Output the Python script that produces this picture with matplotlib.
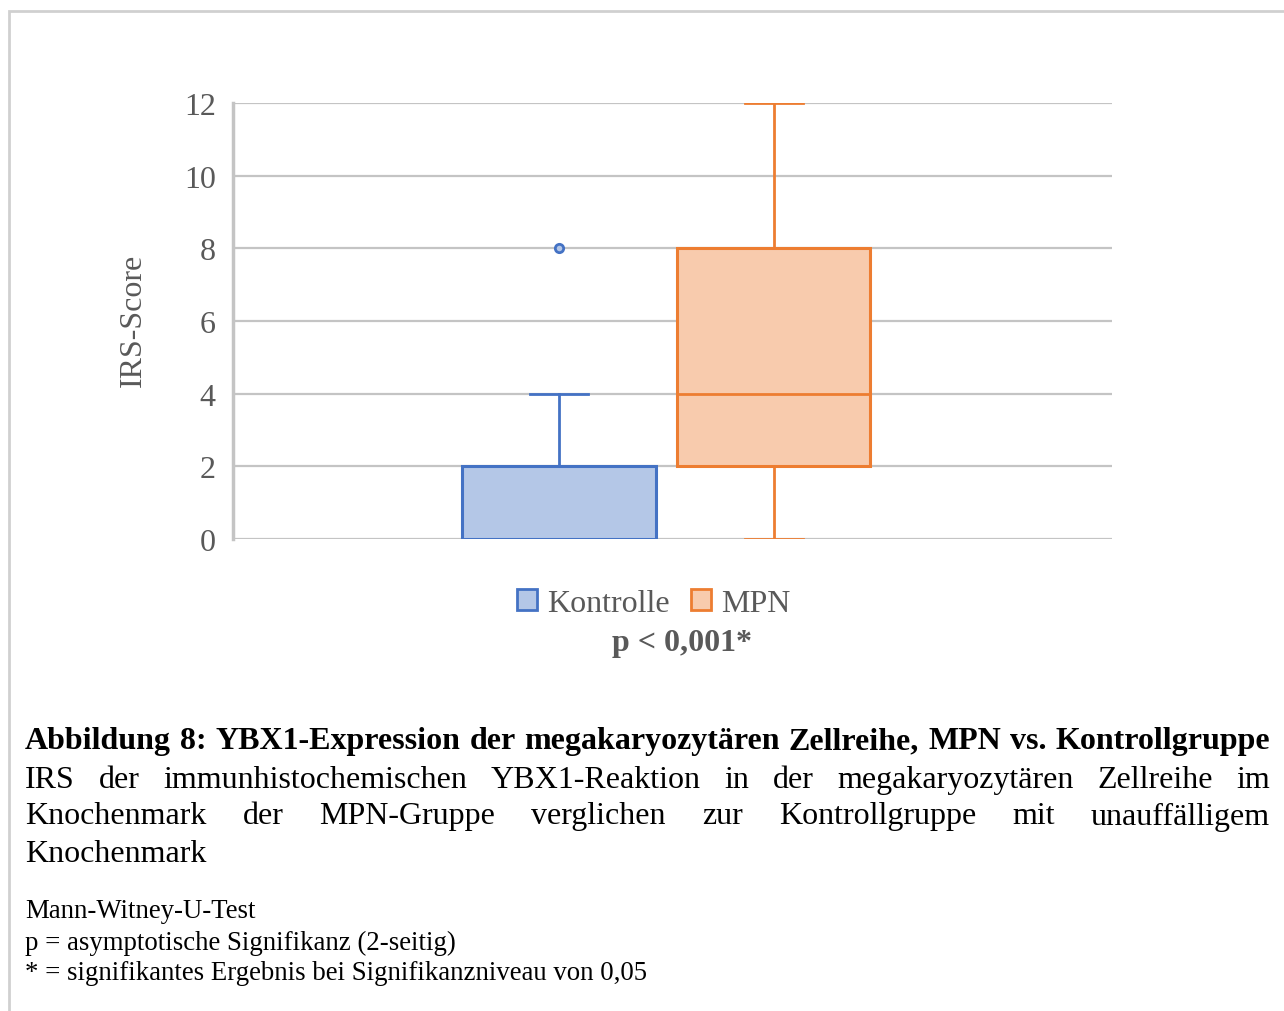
import matplotlib
matplotlib.use("Agg")
import matplotlib.pyplot as plt
from matplotlib.patches import Patch, Rectangle

plt.rcParams['font.family'] = ['Liberation Serif', 'DejaVu Serif']

# IRS-Score box summaries per group
groups = ['Kontrolle', 'MPN']
whisker_low = [0, 0]
q1 = [0, 2]
median = [0, 4]
q3 = [2, 8]
whisker_high = [4, 12]
outliers = [[8], []]

p_text = 'p < 0,001*'
caption_title = 'Abbildung 8: YBX1-Expression der megakaryozytären Zellreihe, MPN vs. Kontrollgruppe'
caption_lines = ['IRS der immunhistochemischen YBX1-Reaktion in der megakaryozytären Zellreihe im',
                 'Knochenmark der MPN-Gruppe verglichen zur Kontrollgruppe mit unauffälligem',
                 'Knochenmark']
notes = ['Mann-Witney-U-Test',
         'p = asymptotische Signifikanz (2-seitig)',
         '* = signifikantes Ergebnis bei Signifikanzniveau von 0,05']

edge_colors = ['#4472C4', '#ED7D31']
fill_colors = ['#B4C7E7', '#F8CBAD']
grey = '#595959'

W, H = 1284, 1012
fig = plt.figure(figsize=(W / 100, H / 100), dpi=100)
ax = fig.add_axes([233 / W, 1 - 540 / H, 879 / W, 436 / H])

stats = []
for i, g in enumerate(groups):
    stats.append(dict(label=g, whislo=whisker_low[i], q1=q1[i], med=median[i],
                      q3=q3[i], whishi=whisker_high[i], fliers=outliers[i]))

positions = [-0.129, 0.115]
bp = ax.bxp(stats, positions=positions, widths=0.220, capwidths=0.066,
            patch_artist=True, showfliers=True)
for i in range(len(groups)):
    bp['boxes'][i].set(facecolor=fill_colors[i], edgecolor=edge_colors[i], linewidth=2.2, zorder=3)
    bp['medians'][i].set(color=edge_colors[i], linewidth=2.0, zorder=4)
    for ln in bp['whiskers'][2 * i:2 * i + 2] + bp['caps'][2 * i:2 * i + 2]:
        ln.set(color=edge_colors[i], linewidth=2.0, zorder=3)
    bp['fliers'][i].set(marker='o', markersize=6, markerfacecolor=fill_colors[i],
                        markeredgecolor=edge_colors[i], markeredgewidth=2.0, zorder=4)

ax.set_xlim(-0.5, 0.5)
ax.set_ylim(0, 12)
ax.set_yticks(range(0, 13, 2))
ax.set_xticks([])
ax.grid(axis='y', color='#C4C4C4', linewidth=1.6)
ax.set_axisbelow(True)
for s in ['top', 'right', 'bottom']:
    ax.spines[s].set_visible(False)
ax.spines['left'].set(color='#C4C4C4', linewidth=2.5)
ax.tick_params(axis='y', length=0, pad=12.5, labelsize=23, labelcolor=grey)

fig.text(133 / W, 1 - 320 / H, 'IRS-Score', rotation=90, ha='center', va='center',
         fontsize=23, color=grey)

handles = [Patch(facecolor=fill_colors[i], edgecolor=edge_colors[i], linewidth=2, label=g)
           for i, g in enumerate(groups)]
fig.legend(handles=handles, loc='center', bbox_to_anchor=(654 / W, 1 - 604 / H), ncol=2,
           frameon=False, fontsize=23, labelcolor=grey, handlelength=0.62, handleheight=0.62,
           handletextpad=0.32, columnspacing=0.66, borderpad=0)

fig.text(682 / W, 1 - 644 / H, p_text, ha='center', va='center', fontsize=23,
         fontweight='bold', color=grey)

# outer frame
fig.add_artist(Rectangle((9 / W, -0.1), 1.2, 1 - 12 / H + 0.1, transform=fig.transFigure,
                         fill=False, edgecolor='#D0D0D0', linewidth=2))

renderer = fig.canvas.get_renderer()
x0, x1 = 25, 1270


def justified(words, yc, **kw):
    arts = [fig.text(0, 1 - yc / H, w, va='center', ha='left', **kw) for w in words]
    widths = [a.get_window_extent(renderer).width for a in arts]
    gap = (x1 - x0 - sum(widths)) / (len(words) - 1)
    x = x0
    for a, w in zip(arts, widths):
        a.set_x(x / W)
        x += w + gap


justified(caption_title.split(' '), 742, fontsize=23, fontweight='bold', color='black')
justified(caption_lines[0].split(' '), 781, fontsize=23, color='black')
justified(caption_lines[1].split(' '), 817, fontsize=23, color='black')
fig.text(x0 / W, 1 - 855 / H, caption_lines[2], va='center', ha='left', fontsize=23, color='black')

for j, t in enumerate(notes):
    fig.text(x0 / W, 1 - (912 + 31 * j) / H, t, va='center', ha='left', fontsize=19.3, color='black')

fig.savefig('out.png', dpi=100)
